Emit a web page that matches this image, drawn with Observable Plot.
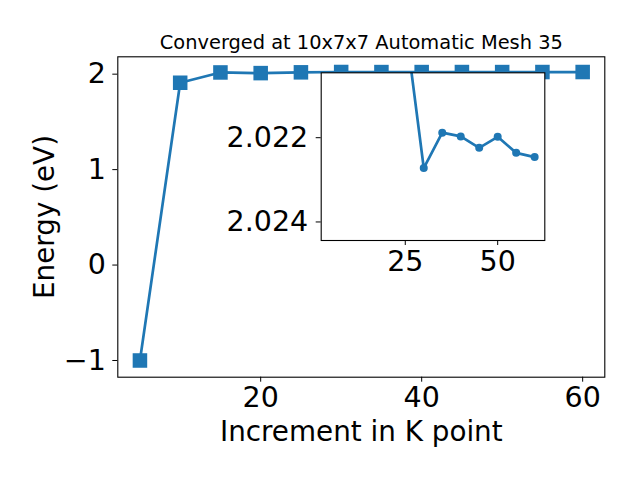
<!DOCTYPE html>
<html><head><meta charset="utf-8">
<script src="https://cdn.jsdelivr.net/npm/d3@7"></script>
<script src="https://cdn.jsdelivr.net/npm/@observablehq/plot@0.6"></script>
<style>
body{margin:0;background:white;}
#wrap{position:relative;width:640px;height:480px;overflow:hidden;}
#wrap svg{position:absolute;left:0;top:0;}
</style></head><body><div id="wrap"></div>
<script>
const kpoints = [5, 10, 15, 20, 25, 30, 35, 40, 45, 50, 55, 60];
const energies = [-1.0, 1.91, 2.018, 2.011, 2.0193, 2.02272, 2.02188, 2.02197, 2.02224, 2.02198, 2.02236, 2.02246];
const mainXTicks = [20, 40, 60];
const mainYTicks = [-1, 0, 1, 2];
const insetXTicks = [25, 50];
const insetYTicks = [2.022, 2.024];
const titleText = "Converged at 10x7x7 Automatic Mesh 35";
const xLabelText = "Increment in K point";
const yLabelText = "Energy (eV)";

const data = kpoints.map((k, i) => ({k, e: energies[i]}));
const color = "#1f77b4";
const font = "DejaVu Sans";
const tickFont = 28.5;

const main = Plot.plot({
  width: 640, height: 480,
  marginLeft: 117.3, marginRight: 35.7, marginTop: 56.3, marginBottom: 103.3,
  style: {fontFamily: font, fontSize: tickFont + "px", background: "transparent", color: "black"},
  x: {domain: [2.25, 62.75], ticks: mainXTicks, tickFormat: "d", tickSize: 5, tickPadding: 5, label: null},
  y: {domain: [-1.175, 2.182], ticks: mainYTicks, tickFormat: "d", tickSize: 5, tickPadding: 7, label: null},
  marks: [
    Plot.line(data, {x: "k", y: "e", stroke: color, strokeWidth: 2.7}),
    Plot.dot(data, {x: "k", y: "e", symbol: "square", r: 8.2, fill: color, stroke: "none"}),
    Plot.frame({stroke: "black", strokeWidth: 1.1}),
    Plot.text([titleText], {text: d => d, frameAnchor: "top", dy: -14, fontSize: 19.4, textAnchor: "middle", lineAnchor: "middle", fill: "black"}),
    Plot.text([xLabelText], {text: d => d, frameAnchor: "bottom", dy: 55, fontSize: 27.8, textAnchor: "middle", lineAnchor: "middle", fill: "black"}),
    Plot.text([yLabelText], {text: d => d, frameAnchor: "left", dx: -73, rotate: -90, fontSize: 27.8, textAnchor: "middle", lineAnchor: "middle", fill: "black"})
  ]
});

const inset = Plot.plot({
  width: 640, height: 480,
  marginLeft: 320.7, marginRight: 95.7, marginTop: 72.3, marginBottom: 240,
  style: {fontFamily: font, fontSize: tickFont + "px", background: "transparent", color: "black"},
  x: {domain: [2.25, 62.75], ticks: insetXTicks, tickFormat: "d", tickSize: 5, tickPadding: 5, label: null},
  y: {domain: [2.02046, 2.02444], reverse: true, ticks: insetYTicks, tickFormat: ".3f", tickSize: 5, tickPadding: 8, label: null},
  marks: [
    Plot.frame({fill: "white", stroke: "none"}),
    Plot.line(data, {x: "k", y: "e", stroke: color, strokeWidth: 2.7, clip: true}),
    Plot.dot(data, {x: "k", y: "e", r: 4, fill: color, stroke: "none", clip: true}),
    Plot.frame({stroke: "black", strokeWidth: 1.1})
  ]
});

const wrap = document.getElementById("wrap");
wrap.appendChild(main);
wrap.appendChild(inset);
</script>
</body></html>
